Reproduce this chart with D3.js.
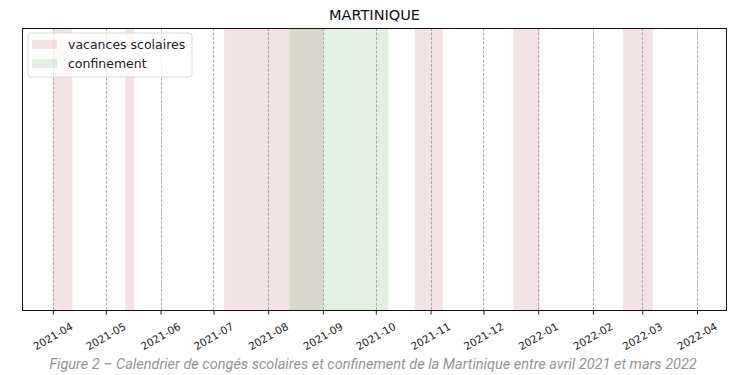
<!DOCTYPE html>
<html>
<head>
<meta charset="utf-8">
<script src="https://cdn.jsdelivr.net/npm/d3@7"></script>
<style>
  body { margin: 0; background: #fff; }
  svg { display: block; }
</style>
</head>
<body>
<div id="chart"></div>
<script>
// school holidays (start, end) in Martinique
var vacancesStart = ["2021-04-01", "2021-05-12", "2021-07-07", "2021-10-23", "2021-12-18", "2022-02-18"];
var vacancesEnd = ["2021-04-12", "2021-05-17", "2021-09-01", "2021-11-08", "2022-01-02", "2022-03-07"];
// lockdown
var confinementStart = ["2021-08-13"];
var confinementEnd = ["2021-10-08"];
// month ticks
var tickLabels = ["2021-04", "2021-05", "2021-06", "2021-07", "2021-08", "2021-09", "2021-10",
  "2021-11", "2021-12", "2022-01", "2022-02", "2022-03", "2022-04"];
var domainDates = ["2021-03-14T12:00", "2022-04-18T00:00"];

var WIDTH = 731, HEIGHT = 375;
var MARGIN = { top: 28, right: 4, bottom: 64, left: 22 };
var w = WIDTH - MARGIN.left - MARGIN.right;
var h = HEIGHT - MARGIN.top - MARGIN.bottom;

var parseDay = d3.utcParse("%Y-%m-%d");
var parseTime = d3.utcParse("%Y-%m-%dT%H:%M");
var parseMonth = d3.utcParse("%Y-%m");

var x = d3.scaleUtc()
  .domain(domainDates.map(parseTime))
  .range([0, w]);

var svg = d3.select("#chart").append("svg")
  .attr("width", WIDTH)
  .attr("height", HEIGHT);

var g = svg.append("g")
  .attr("transform", "translate(" + MARGIN.left + "," + MARGIN.top + ")");

function spans(starts, ends) {
  return starts.map(function(s, i) {
    return { start: parseDay(s), end: parseDay(ends[i]) };
  });
}

function drawSpans(data, color, cls) {
  g.append("g").attr("class", cls)
    .selectAll("rect").data(data).enter().append("rect")
    .attr("x", function(d) { return x(d.start); })
    .attr("width", function(d) { return x(d.end) - x(d.start); })
    .attr("y", 0)
    .attr("height", h)
    .attr("fill", color)
    .attr("fill-opacity", 0.15);
}

var PINK = "rgb(180,70,75)";
var GREEN = "rgb(70,150,70)";

drawSpans(spans(vacancesStart, vacancesEnd), PINK, "vacances");
drawSpans(spans(confinementStart, confinementEnd), GREEN, "confinement");

var ticks = tickLabels.map(parseMonth);

// dashed vertical grid
g.append("g").attr("class", "grid")
  .selectAll("line").data(ticks).enter().append("line")
  .attr("x1", function(d) { return Math.round(x(d)) + 0.5; })
  .attr("x2", function(d) { return Math.round(x(d)) + 0.5; })
  .attr("y1", 0)
  .attr("y2", h)
  .attr("stroke", "#9a9a9a")
  .attr("stroke-width", 0.8)
  .attr("stroke-dasharray", "3,1.5");

// x axis
var xAxis = d3.axisBottom(x)
  .tickValues(ticks)
  .tickSize(3.5)
  .tickPadding(2)
  .tickFormat(d3.utcFormat("%Y-%m"));

var ax = g.append("g")
  .attr("class", "x axis")
  .attr("transform", "translate(0," + h + ")")
  .call(xAxis);
ax.select(".domain").remove();
ax.selectAll(".tick line").attr("stroke", "#000").attr("stroke-width", 0.9);
ax.selectAll(".tick text")
  .attr("font-family", "DejaVu Sans")
  .attr("font-size", 10.5)
  .attr("fill", "#222")
  .attr("text-anchor", "middle")
  .attr("dy", 0)
  .attr("y", 0)
  .attr("transform", "translate(0,26) rotate(-30)")
  .attr("dominant-baseline", "middle");

// frame
g.append("rect")
  .attr("x", 0.5)
  .attr("y", 0.5)
  .attr("width", w - 1)
  .attr("height", h - 1)
  .attr("fill", "none")
  .attr("stroke", "#111")
  .attr("stroke-width", 1);

// title
svg.append("text")
  .attr("x", MARGIN.left + w / 2)
  .attr("y", 20)
  .attr("text-anchor", "middle")
  .attr("font-family", "DejaVu Sans")
  .attr("font-size", 14.5)
  .attr("fill", "#111")
  .text("MARTINIQUE");

// legend
var legend = g.append("g").attr("transform", "translate(6,5)");
legend.append("rect")
  .attr("width", 164)
  .attr("height", 44)
  .attr("rx", 3)
  .attr("fill", "#fff")
  .attr("fill-opacity", 0.8)
  .attr("stroke", "#d0d0d0")
  .attr("stroke-width", 0.8);

var legendItems = [
  { label: "vacances scolaires", color: PINK },
  { label: "confinement", color: GREEN }
];
legendItems.forEach(function(d, i) {
  var row = legend.append("g").attr("transform", "translate(4," + (7 + i * 19) + ")");
  row.append("rect")
    .attr("width", 25)
    .attr("height", 9)
    .attr("fill", d.color)
    .attr("fill-opacity", 0.15);
  row.append("text")
    .attr("x", 36)
    .attr("y", 9)
    .attr("font-family", "DejaVu Sans")
    .attr("font-size", 12.5)
    .attr("fill", "#222")
    .text(d.label);
});

// caption
svg.append("text")
  .attr("x", 373)
  .attr("y", 369)
  .attr("text-anchor", "middle")
  .attr("font-family", "Roboto")
  .attr("font-style", "italic")
  .attr("font-size", 14.5)
  .attr("fill", "#949494")
  .text("Figure 2 \u2013 Calendrier de cong\u00e9s scolaires et confinement de la Martinique entre avril 2021 et mars 2022");
</script>
</body>
</html>
